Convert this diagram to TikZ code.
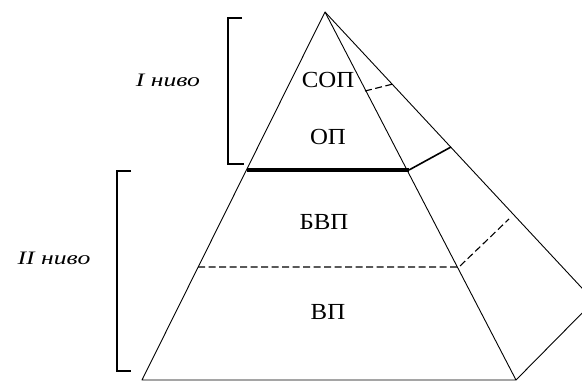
\documentclass[tikz,border=0pt]{standalone}
\usepackage{fontspec}
\setmainfont{Liberation Serif}
\newfontfamily\lblfont{Liberation Serif}[FakeStretch=1.08]
\newfontfamily\lvlfont{Liberation Serif}[FakeStretch=1.35]
\begin{document}
\begin{tikzpicture}[x=1pt,y=-1pt,
  edge/.style={line width=0.9pt, line join=round},
  thickedge/.style={line width=3.6pt},
  midedge/.style={line width=1.6pt},
  hidden/.style={line width=1.1pt, dash pattern=on 7pt off 3.5pt},
  bracket/.style={line width=1.2pt},
  lbl/.style={font=\lblfont\fontsize{23}{23}\selectfont, inner sep=0pt},
  lvl/.style={font=\lvlfont\itshape\fontsize{19}{19}\selectfont, inner sep=0pt}]
\useasboundingbox (0,0) rectangle (582,381);
\clip (0,0) rectangle (582,381);
% corners
\coordinate (apex) at (325,12);
\coordinate (fl) at (142,380);
\coordinate (fr) at (516,380);
\coordinate (bk) at (594,301);
% level points
\coordinate (tl) at (247,170);
\coordinate (tr) at (409,170);
\coordinate (tb) at (451,147);
\coordinate (dl) at (198,267);
\coordinate (dr) at (459,267);
\coordinate (db) at (509,219);
\coordinate (sa) at (365,91);
\coordinate (sb) at (393,84);
% pyramid
\draw[edge] (apex) -- (fl) -- (fr) -- cycle;
\draw[edge] (apex) -- (bk) -- (fr);
\draw[thickedge] (tl) -- (tr);
\draw[midedge] (tr) -- (tb);
\draw[hidden] (dl) -- (dr) -- (db);
\draw[hidden] (sa) -- (sb);
% labels
\node[lbl] (sop) at (328,80) {СОП};
\node[lbl] (op) at (328,137) {ОП};
\node[lbl] (bvp) at (324,222) {БВП};
\node[lbl] (vp) at (328,312) {ВП};
% brackets
\coordinate (b1a) at (242,18);
\coordinate (b1b) at (228,18);
\coordinate (b1c) at (228,164);
\coordinate (b1d) at (244,164);
\draw[bracket] (b1a) -- (b1b) -- (b1c) -- (b1d);
\coordinate (b2a) at (131,171);
\coordinate (b2b) at (117,171);
\coordinate (b2c) at (117,371);
\coordinate (b2d) at (131,371);
\draw[bracket] (b2a) -- (b2b) -- (b2c) -- (b2d);
\node[lvl] (l1) at (168,80) {I ниво};
\node[lvl] (l2) at (54,258) {II ниво};
\end{tikzpicture}
\end{document}
